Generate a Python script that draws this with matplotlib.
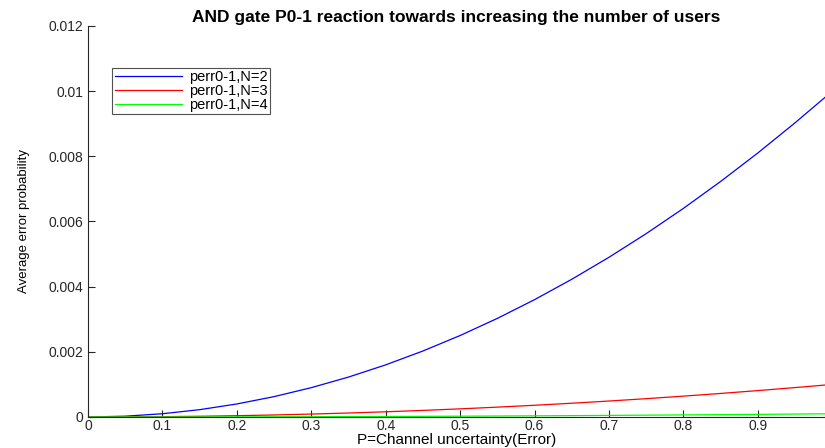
import matplotlib
matplotlib.use("Agg")
import matplotlib.pyplot as plt

# channel uncertainty P and average error probability
p = [0, 0.05, 0.1, 0.15, 0.2, 0.25, 0.3, 0.35, 0.4, 0.45, 0.5,
     0.55, 0.6, 0.65, 0.7, 0.75, 0.8, 0.85, 0.9, 0.95, 0.99]
perr_n2 = [0, 0.000025, 0.0001, 0.000225, 0.0004, 0.000625, 0.0009, 0.001225,
           0.0016, 0.002025, 0.0025, 0.003025, 0.0036, 0.004225, 0.0049,
           0.005625, 0.0064, 0.007225, 0.0081, 0.009025, 0.0098]
perr_n3 = [0, 0.0000025, 0.00001, 0.0000225, 0.00004, 0.0000625, 0.00009,
           0.0001225, 0.00016, 0.0002025, 0.00025, 0.0003025, 0.00036,
           0.0004225, 0.00049, 0.0005625, 0.00064, 0.0007225, 0.00081,
           0.0009025, 0.00098]
perr_n4 = [0, 0.00000025, 0.000001, 0.00000225, 0.000004, 0.00000625, 0.000009,
           0.00001225, 0.000016, 0.00002025, 0.000025, 0.00003025, 0.000036,
           0.00004225, 0.000049, 0.00005625, 0.000064, 0.00007225, 0.000081,
           0.00009025, 0.000098]
labels = ["perr0-1,N=2", "perr0-1,N=3", "perr0-1,N=4"]
xticks = [0, 0.1, 0.2, 0.3, 0.4, 0.5, 0.6, 0.7, 0.8, 0.9]
yticks = [0, 0.002, 0.004, 0.006, 0.008, 0.01, 0.012]
ytick_labels = ["0", "0.002", "0.004", "0.006", "0.008", "0.01", "0.012"]

plt.rcParams["font.family"] = ["Liberation Sans", "DejaVu Sans"]

fig = plt.figure(figsize=(8.25, 4.48), dpi=100)
ax = fig.add_axes([0.1067, 0.0692, 0.893, 0.873])

for ys, color, lab in zip([perr_n2, perr_n3, perr_n4],
                          ["#0000ff", "#ff0000", "#00ff00"], labels):
    ax.plot(p, ys, color=color, lw=0.9, label=lab)

ax.set_xlim(0, 0.99)
ax.set_ylim(0, 0.012)
ax.set_xticks(xticks)
ax.set_xticklabels([f"{t:g}" for t in xticks])
ax.set_yticks(yticks)
ax.set_yticklabels(ytick_labels)
ax.tick_params(direction="in", length=5, width=0.8, labelsize=10,
               colors="#262626")
ax.tick_params(axis="x", pad=1.5)
for side in ["top", "right"]:
    ax.spines[side].set_visible(False)
for side in ["left", "bottom"]:
    ax.spines[side].set_color("#262626")
    ax.spines[side].set_linewidth(0.8)

ax.set_title("AND gate P0-1 reaction towards increasing the number of users",
             fontsize=12.5, fontweight="bold", pad=3)
ax.set_xlabel("P=Channel uncertainty(Error)", fontsize=11, labelpad=0)
ax.set_ylabel("Average error probability", fontsize=9.5, labelpad=13)

leg = ax.legend(loc="upper left", bbox_to_anchor=(0.033, 0.893), fontsize=10.5,
                frameon=True, fancybox=False, borderpad=0.15,
                labelspacing=0.0, handlelength=4.6, handletextpad=0.5,
                borderaxespad=0)
leg.get_frame().set_edgecolor("#262626")
leg.get_frame().set_linewidth(0.8)

fig.savefig("out.png", dpi=100)
